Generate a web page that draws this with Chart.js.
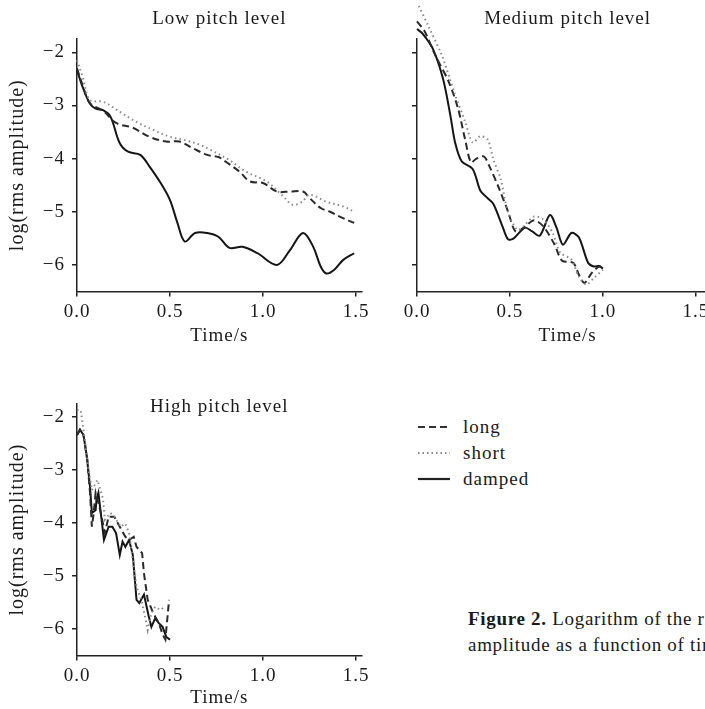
<!DOCTYPE html>
<html>
<head>
<meta charset="utf-8">
<script src="https://cdn.jsdelivr.net/npm/chart.js@4.4.0/dist/chart.umd.min.js"></script>
<style>
  html, body { margin:0; padding:0; background:#fff; overflow:hidden; width:705px; height:709px; }
  body { position:relative; font-family:"Liberation Serif", "Times New Roman", serif; color:#1a1a1a; }
  canvas { position:absolute; }
  #lowChart { left:0; top:0; }
  #medChart { left:370px; top:0; }
  #highChart { left:0; top:350px; }
  #legend { position:absolute; left:418px; top:414px; font-size:19px; letter-spacing:1px; }
  .row { height:26px; display:flex; align-items:center; }
  .row svg { width:32px; height:10px; margin-right:13px; }
  #caption { position:absolute; left:468px; top:606px; font-size:19px; line-height:26px; white-space:nowrap; letter-spacing:0.7px; }
</style>
</head>
<body>
<canvas id="lowChart"></canvas>
<canvas id="medChart"></canvas>
<canvas id="highChart"></canvas>

<div id="legend">
  <div class="row"><svg><line x1="0" y1="5" x2="32" y2="5" stroke="#333" stroke-width="2.2" stroke-dasharray="7 4"/></svg>long</div>
  <div class="row"><svg><line x1="0" y1="5" x2="32" y2="5" stroke="#888" stroke-width="1.8" stroke-dasharray="1.5 3"/></svg>short</div>
  <div class="row"><svg><line x1="0" y1="5" x2="32" y2="5" stroke="#222" stroke-width="2.2"/></svg>damped</div>
</div>

<div id="caption"><b>Figure 2.</b> Logarithm of the rms<br>amplitude as a function of time.</div>

<script>
// ==== Data ====
const xTicks = [0, 0.5, 1.0, 1.5];
const yTicks = [-6, -5, -4, -3, -2];

// Low pitch level
const lowLongT   = [0, 0.03, 0.07, 0.14, 0.21, 0.3, 0.39, 0.48, 0.55, 0.62, 0.7, 0.76, 0.8, 0.875, 0.93, 1.0, 1.075, 1.145, 1.215, 1.25, 1.31, 1.36, 1.43, 1.49];
const lowLongV   = [-2.3, -2.62, -2.96, -3.1, -3.33, -3.42, -3.59, -3.68, -3.68, -3.8, -3.93, -3.97, -4.06, -4.25, -4.43, -4.46, -4.62, -4.62, -4.62, -4.74, -4.93, -5.0, -5.12, -5.21];
const lowShortT  = [0, 0.03, 0.07, 0.14, 0.23, 0.32, 0.41, 0.5, 0.59, 0.66, 0.72, 0.82, 0.91, 1.02, 1.1, 1.16, 1.21, 1.25, 1.34, 1.43, 1.49];
const lowShortV  = [-2.15, -2.46, -2.9, -2.93, -3.12, -3.31, -3.46, -3.59, -3.66, -3.74, -3.84, -4.03, -4.25, -4.43, -4.68, -4.87, -4.81, -4.68, -4.81, -4.9, -5.0];
const lowDampT   = [0, 0.03, 0.07, 0.1, 0.14, 0.18, 0.23, 0.275, 0.34, 0.39, 0.45, 0.5, 0.54, 0.58, 0.635, 0.7, 0.76, 0.82, 0.89, 0.97, 1.075, 1.145, 1.215, 1.27, 1.31, 1.34, 1.38, 1.43, 1.49];
const lowDampV   = [-2.33, -2.65, -2.97, -3.06, -3.09, -3.21, -3.71, -3.87, -3.93, -4.15, -4.46, -4.78, -5.21, -5.56, -5.4, -5.4, -5.47, -5.68, -5.66, -5.78, -6.0, -5.72, -5.4, -5.66, -6.03, -6.16, -6.1, -5.91, -5.78];

// Medium pitch level
const medLongT   = [0, 0.04, 0.1, 0.17, 0.22, 0.26, 0.29, 0.32, 0.36, 0.39, 0.44, 0.49, 0.53, 0.58, 0.63, 0.68, 0.74, 0.78, 0.84, 0.87, 0.9, 0.94, 0.98, 1.0];
const medLongV   = [-1.42, -1.6, -2.07, -2.55, -3.05, -3.66, -4.07, -4.0, -3.96, -4.15, -4.55, -5.0, -5.37, -5.28, -5.16, -5.28, -5.62, -5.92, -5.96, -6.18, -6.34, -6.15, -6.03, -6.07];
const medShortT  = [0.01, 0.06, 0.135, 0.2, 0.26, 0.3, 0.34, 0.38, 0.41, 0.45, 0.49, 0.54, 0.57, 0.63, 0.68, 0.73, 0.77, 0.83, 0.87, 0.91, 0.95, 1.0];
const medShortV  = [-1.13, -1.5, -2.07, -2.75, -3.32, -3.7, -3.58, -3.64, -4.01, -4.39, -5.02, -5.34, -5.28, -5.09, -5.15, -5.4, -5.77, -5.9, -6.22, -6.37, -6.25, -6.09];
const medDampT   = [0, 0.03, 0.086, 0.14, 0.18, 0.205, 0.24, 0.3, 0.34, 0.375, 0.41, 0.46, 0.49, 0.52, 0.58, 0.62, 0.66, 0.715, 0.75, 0.785, 0.83, 0.87, 0.92, 0.95, 0.98, 1.0];
const medDampV   = [-1.56, -1.65, -1.94, -2.5, -3.2, -3.7, -4.05, -4.2, -4.6, -4.73, -4.85, -5.28, -5.52, -5.5, -5.3, -5.37, -5.45, -5.06, -5.3, -5.62, -5.4, -5.48, -5.96, -6.03, -6.02, -6.07];

// High pitch level
const highLongT  = [0, 0.016, 0.035, 0.055, 0.07, 0.08, 0.09, 0.1, 0.12, 0.15, 0.17, 0.2, 0.23, 0.26, 0.28, 0.305, 0.32, 0.35, 0.36, 0.38, 0.41, 0.44, 0.46, 0.475, 0.495];
const highLongV  = [-2.34, -2.24, -2.34, -2.8, -3.43, -4.07, -3.81, -3.43, -3.68, -4.19, -3.88, -3.88, -4.07, -4.26, -4.32, -4.26, -4.45, -4.57, -4.95, -5.45, -5.7, -5.89, -6.1, -6.2, -5.45];
const highShortT = [0, 0.02, 0.04, 0.06, 0.08, 0.1, 0.11, 0.14, 0.15, 0.18, 0.2, 0.235, 0.26, 0.28, 0.3, 0.32, 0.35, 0.38, 0.4, 0.42, 0.45, 0.47];
const highShortV = [-1.87, -1.87, -2.38, -2.94, -3.38, -3.25, -3.19, -3.55, -3.94, -3.81, -3.88, -4.07, -4.01, -4.19, -4.7, -5.2, -5.5, -6.02, -5.7, -5.58, -5.64, -5.58];
const highDampT  = [0, 0.016, 0.035, 0.053, 0.07, 0.08, 0.1, 0.105, 0.115, 0.145, 0.17, 0.19, 0.21, 0.23, 0.245, 0.26, 0.28, 0.3, 0.32, 0.335, 0.36, 0.385, 0.4, 0.42, 0.44, 0.46, 0.48, 0.5];
const highDampV  = [-2.34, -2.24, -2.34, -2.75, -3.32, -3.81, -3.76, -3.55, -3.43, -4.32, -4.07, -4.07, -4.19, -4.6, -4.35, -4.45, -4.32, -4.6, -5.45, -5.51, -5.35, -5.75, -5.96, -5.8, -5.89, -5.96, -6.15, -6.2];

// ==== Styles ====
const serif = '"Liberation Serif", "Times New Roman", serif';
const ink = '#1a1a1a';
const lineStyles = {
  short:  { borderColor: '#8a8a8a', borderWidth: 2, borderDash: [1.5, 3.2] },
  long:   { borderColor: '#2a2a2a', borderWidth: 2, borderDash: [7, 4] },
  damped: { borderColor: '#151515', borderWidth: 2, borderDash: [] }
};

// canvas text a bit wider, like the printed figure
const spacing = {
  id: 'spacing',
  beforeUpdate(c) { c.ctx.letterSpacing = '1px'; },
  beforeDraw(c) { c.ctx.letterSpacing = '1px'; }
};

function makePanel(id, cfg) {
  const canvas = document.getElementById(id);
  canvas.width = cfg.w; canvas.height = cfg.h;
  canvas.style.width = cfg.w + 'px'; canvas.style.height = cfg.h + 'px';
  return new Chart(canvas, {
    type: 'line',
    plugins: [spacing],
    data: {
      datasets: cfg.series.map(s => ({
        label: s.name,
        data: s.t.map((t, i) => ({ x: t, y: s.v[i] })),
        ...lineStyles[s.name],
        pointRadius: 0,
        fill: false,
        tension: cfg.tension,
        clip: false
      }))
    },
    options: {
      responsive: false,
      animation: false,
      devicePixelRatio: 1,
      layout: { padding: cfg.pad },
      plugins: {
        legend: { display: false },
        tooltip: { enabled: false },
        title: {
          display: true, text: cfg.title, fullSize: false, color: ink,
          font: { family: serif, size: 19, weight: 'normal' },
          padding: cfg.titlePad
        }
      },
      scales: {
        x: {
          type: 'linear', min: 0, max: cfg.xMax,
          afterBuildTicks: s => { s.ticks = xTicks.map(v => ({ value: v })); },
          afterFit: s => { s.height = cfg.xAxisH; },
          ticks: { color: ink, padding: 4, font: { family: serif, size: 19 }, callback: v => v.toFixed(1) },
          grid: { drawOnChartArea: false, tickLength: 5, color: '#222', lineWidth: 1.5 },
          border: { color: '#222', width: 1.5 },
          title: { display: true, text: 'Time/s', color: ink, font: { family: serif, size: 19 }, padding: { top: 0, bottom: cfg.xTitlePad } }
        },
        y: {
          min: -6.5, max: -1.75,
          afterBuildTicks: s => { s.ticks = yTicks.map(v => ({ value: v })); },
          afterFit: s => { s.width = cfg.yAxisW; },
          ticks: { display: cfg.yLabels, color: ink, padding: 7, font: { family: serif, size: 19 }, callback: v => '\u2212' + Math.abs(v) },
          grid: { drawOnChartArea: false, tickLength: 5, color: '#222', lineWidth: 1.5 },
          border: { color: '#222', width: 1.5 },
          title: { display: cfg.yLabels, text: 'log(rms amplitude)', color: ink, font: { family: serif, size: 20 }, padding: { top: 6, bottom: 0 } }
        }
      }
    }
  });
}

// ==== Panels ====
makePanel('lowChart', {
  w: 380, h: 350, xMax: 1.53, yAxisW: 77, xAxisH: 58.5, xTitlePad: 2.6,
  pad: { left: 0, right: 18.4, top: 0, bottom: 0 },
  titlePad: { top: 7.6, bottom: 8.6 },
  yLabels: true, tension: 0.35, title: 'Low pitch level',
  series: [
    { name: 'short', t: lowShortT, v: lowShortV },
    { name: 'long', t: lowLongT, v: lowLongV },
    { name: 'damped', t: lowDampT, v: lowDampV }
  ]
});

makePanel('medChart', {
  w: 360, h: 350, xMax: 1.62, yAxisW: 47, xAxisH: 58.5, xTitlePad: 2.6,
  pad: { left: 0, right: 11.7, top: 0, bottom: 0 },
  titlePad: { top: 7.6, bottom: 8.6 },
  yLabels: false, tension: 0.3, title: 'Medium pitch level',
  series: [
    { name: 'short', t: medShortT, v: medShortV },
    { name: 'long', t: medLongT, v: medLongV },
    { name: 'damped', t: medDampT, v: medDampV }
  ]
});

makePanel('highChart', {
  w: 380, h: 359, xMax: 1.53, yAxisW: 77, xAxisH: 53.5, xTitlePad: 0,
  pad: { left: 0, right: 18.4, top: 0, bottom: 0 },
  titlePad: { top: 45.6, bottom: -14.65 },
  yLabels: true, tension: 0, title: 'High pitch level',
  series: [
    { name: 'short', t: highShortT, v: highShortV },
    { name: 'long', t: highLongT, v: highLongV },
    { name: 'damped', t: highDampT, v: highDampV }
  ]
});
</script>
</body>
</html>
